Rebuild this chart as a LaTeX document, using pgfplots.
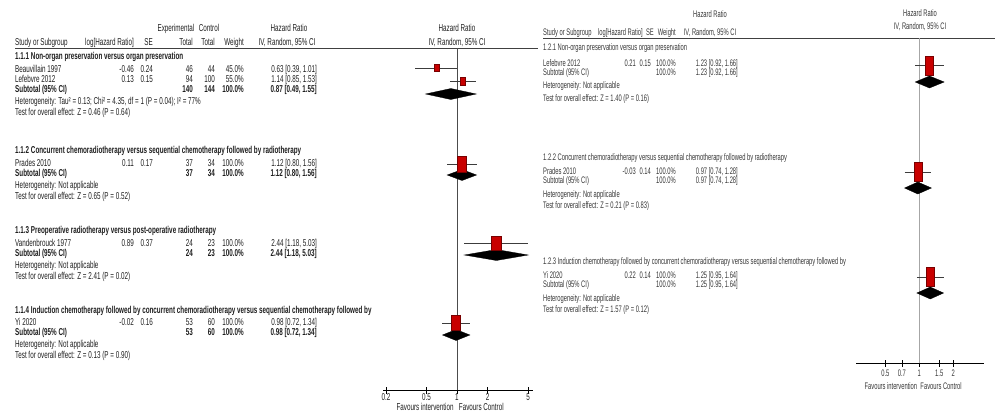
\documentclass[border=0pt]{standalone}
\usepackage{pgfplots}
\pgfplotsset{compat=1.18}
\usepackage{fontspec}
\setmainfont{Liberation Sans}[FakeStretch=0.63]
\newfontfamily\rfont{Liberation Sans}[FakeStretch=0.61]
\definecolor{sqfill}{RGB}{200,0,0}
\definecolor{sqdraw}{RGB}{120,0,0}
\definecolor{txt}{RGB}{30,30,30}
\definecolor{rtxt}{RGB}{55,55,55}
\definecolor{wh}{RGB}{60,60,60}
\newcommand\lf{\fontsize{10}{11}\selectfont}
\newcommand\rf{\rfont\fontsize{9.5}{10}\selectfont}
\tikzset{
 tl/.style={anchor=base west,inner sep=0pt,font=\lf,text=txt},
 tr/.style={anchor=base east,inner sep=0pt,font=\lf,text=txt},
 tc/.style={anchor=base,inner sep=0pt,font=\lf,text=txt},
 rl/.style={anchor=base west,inner sep=0pt,font=\rf,text=rtxt},
 rr/.style={anchor=base east,inner sep=0pt,font=\rf,text=rtxt},
 rc/.style={anchor=base,inner sep=0pt,font=\rf,text=rtxt},
}
\newcommand\Ll[3]{\node[tl,yshift=-3.5pt] at (#1pt,-#2pt) {#3};}
\newcommand\Lr[3]{\node[tr,yshift=-3.5pt] at (#1pt,-#2pt) {#3};}
\newcommand\Lc[3]{\node[tc,yshift=-3.5pt] at (#1pt,-#2pt) {#3};}
\newcommand\Rl[3]{\node[rl,yshift=-3.3pt] at (#1pt,-#2pt) {#3};}
\newcommand\Rr[3]{\node[rr,yshift=-3.3pt] at (#1pt,-#2pt) {#3};}
\newcommand\Rc[3]{\node[rc,yshift=-3.3pt] at (#1pt,-#2pt) {#3};}
\newcommand\Lrow[8]{\Ll{15}{#1}{#2}\Lr{134}{#1}{#3}\Lr{153}{#1}{#4}\Lr{193}{#1}{#5}\Lr{215}{#1}{#6}\Lr{244}{#1}{#7}\Lr{317}{#1}{#8}}
\newcommand\Rrow[6]{\Rl{543}{#1}{#2}\Rr{636}{#1}{#3}\Rr{651}{#1}{#4}\Rr{676}{#1}{#5}\Rr{738}{#1}{#6}}
\pgfplotsset{
 fplot/.style={
  scale only axis, clip=false,
  axis x line*=bottom, axis y line=none,
  x axis line style={-,black,line width=0.6pt},
  ytick=\empty,
  tick align=center, major tick length=7pt,
  xtick style={black,line width=0.6pt},
  xticklabel style={font=\lf,text=txt},
 },
 whisk/.style={wh,line width=0.7pt},
 diam/.style={fill=black,draw=black,line width=0.3pt},
}
\begin{document}
\begin{tikzpicture}
\useasboundingbox (0pt,0pt) rectangle (995pt,-413pt);

% ---------------- LEFT PANEL ----------------
\draw[line width=0.9pt,black!75] (15pt,-48pt) -- (538pt,-48pt);
\Lc{176}{28}{Experimental}
\Lc{209}{28}{Control}
\Lc{289}{28}{Hazard Ratio}
\Lc{457}{28}{Hazard Ratio}
\Ll{15}{42}{Study or Subgroup}
\Lr{134}{42}{log[Hazard Ratio]}
\Lr{153}{42}{SE}
\Lr{193}{42}{Total}
\Lr{215}{42}{Total}
\Lr{244}{42}{Weight}
\Lc{287}{42}{IV, Random, 95\% CI}
\Lc{457}{42}{IV, Random, 95\% CI}

\Ll{15}{56}{\bfseries 1.1.1 Non-organ preservation versus organ preservation}
\Lrow{69}{Beauvillain 1997}{-0.46}{0.24}{46}{44}{45.0\%}{0.63 [0.39, 1.01]}
\Lrow{79}{Lefebvre 2012}{0.13}{0.15}{94}{100}{55.0\%}{1.14 [0.85, 1.53]}
\Lrow{89}{\bfseries Subtotal (95\% CI)}{}{}{\bfseries 140}{\bfseries 144}{\bfseries 100.0\%}{\bfseries 0.87 [0.49, 1.55]}
\Ll{15}{101}{Heterogeneity: Tau² = 0.13; Chi² = 4.35, df = 1 (P = 0.04); I² = 77\%}
\Ll{15}{112}{Test for overall effect: Z = 0.46 (P = 0.64)}

\Ll{15}{150}{\bfseries 1.1.2 Concurrent chemoradiotherapy versus sequential chemotherapy followed by radiotherapy}
\Lrow{163}{Prades 2010}{0.11}{0.17}{37}{34}{100.0\%}{1.12 [0.80, 1.56]}
\Lrow{173}{\bfseries Subtotal (95\% CI)}{}{}{\bfseries 37}{\bfseries 34}{\bfseries 100.0\%}{\bfseries 1.12 [0.80, 1.56]}
\Ll{15}{185}{Heterogeneity: Not applicable}
\Ll{15}{196}{Test for overall effect: Z = 0.65 (P = 0.52)}

\Ll{15}{230}{\bfseries 1.1.3 Preoperative radiotherapy versus post-operative radiotherapy}
\Lrow{243}{Vandenbrouck 1977}{0.89}{0.37}{24}{23}{100.0\%}{2.44 [1.18, 5.03]}
\Lrow{253}{\bfseries Subtotal (95\% CI)}{}{}{\bfseries 24}{\bfseries 23}{\bfseries 100.0\%}{\bfseries 2.44 [1.18, 5.03]}
\Ll{15}{265}{Heterogeneity: Not applicable}
\Ll{15}{276}{Test for overall effect: Z = 2.41 (P = 0.02)}

\Ll{15}{310}{\bfseries 1.1.4 Induction chemotherapy followed by concurrent chemoradiotherapy versus sequential chemotherapy followed by}
\Lrow{322}{Yi 2020}{-0.02}{0.16}{53}{60}{100.0\%}{0.98 [0.72, 1.34]}
\Lrow{332}{\bfseries Subtotal (95\% CI)}{}{}{\bfseries 53}{\bfseries 60}{\bfseries 100.0\%}{\bfseries 0.98 [0.72, 1.34]}
\Ll{15}{344}{Heterogeneity: Not applicable}
\Ll{15}{355}{Test for overall effect: Z = 0.13 (P = 0.90)}

\begin{axis}[xmode=log, fplot, at={(383pt,-390pt)}, anchor=south west,
  width=150pt, height=342pt,
  xmin=0.187, xmax=5.6, ymin=-390, ymax=-48,
  xtick={0.2,0.5,1,2,5}, xticklabels={0.2,0.5,1,2,5},
  xticklabel style={yshift=3.5pt}]
 \addplot[black!70,line width=0.6pt] coordinates {(1,-48) (1,-390)};
 \addplot[whisk] coordinates {(0.39,-68) (1.01,-68)};
 \addplot[whisk] coordinates {(0.85,-81) (1.53,-81)};
 \addplot[whisk] coordinates {(0.80,-164) (1.56,-164)};
 \addplot[whisk] coordinates {(1.18,-243) (5.03,-243)};
 \addplot[whisk] coordinates {(0.72,-323) (1.34,-323)};
 \addplot[only marks,mark=square*,mark size=3.5pt,mark options={fill=sqfill,draw=sqdraw,line width=0.4pt,xscale=0.71}] coordinates {(0.63,-68)};
 \addplot[only marks,mark=square*,mark size=4pt,mark options={fill=sqfill,draw=sqdraw,line width=0.4pt,xscale=0.63}] coordinates {(1.14,-81)};
 \addplot[only marks,mark=square*,mark size=8pt,mark options={fill=sqfill,draw=sqdraw,line width=0.4pt,xscale=0.56}] coordinates {(1.12,-164)};
 \addplot[only marks,mark=square*,mark size=7pt,mark options={fill=sqfill,draw=sqdraw,line width=0.4pt,xscale=0.71}] coordinates {(2.44,-243)};
 \addplot[only marks,mark=square*,mark size=7.5pt,mark options={fill=sqfill,draw=sqdraw,line width=0.4pt,xscale=0.6}] coordinates {(0.98,-323)};
 \addplot[diam] coordinates {(0.49,-94) (0.87,-88.5) (1.55,-94) (0.87,-99.5)} -- cycle;
 \addplot[diam] coordinates {(0.80,-175) (1.12,-169.5) (1.56,-175) (1.12,-180.5)} -- cycle;
 \addplot[diam] coordinates {(1.18,-255) (2.44,-249.5) (5.03,-255) (2.44,-260.5)} -- cycle;
 \addplot[diam] coordinates {(0.72,-335) (0.98,-329.5) (1.34,-335) (0.98,-340.5)} -- cycle;
 \node[tr,yshift=-3.5pt] at (axis cs:0.93,-407) {Favours intervention};
 \node[tl,yshift=-3.5pt] at (axis cs:1.04,-407) {Favours Control};
\end{axis}

% ---------------- RIGHT PANEL ----------------
\draw[line width=0.9pt,black!75] (543pt,-38pt) -- (995pt,-38pt);
\Rc{710}{14}{Hazard Ratio}
\Rl{543}{32}{Study or Subgroup}
\Rr{643}{32}{log[Hazard Ratio]}
\Rr{654}{32}{SE}
\Rr{676}{32}{Weight}
\Rc{710}{32}{IV, Random, 95\% CI}
\Rc{920}{13}{Hazard Ratio}
\Rc{920}{26}{IV, Random, 95\% CI}

\Rl{543}{47}{1.2.1 Non-organ preservation versus organ preservation}
\Rrow{63}{Lefebvre 2012}{0.21}{0.15}{100.0\%}{1.23 [0.92, 1.66]}
\Rrow{72}{Subtotal (95\% CI)}{}{}{100.0\%}{1.23 [0.92, 1.66]}
\Rl{543}{85}{Heterogeneity: Not applicable}
\Rl{543}{98}{Test for overall effect: Z = 1.40 (P = 0.16)}

\Rl{543}{157}{1.2.2 Concurrent chemoradiotherapy versus sequential chemotherapy followed by radiotherapy}
\Rrow{171}{Prades 2010}{-0.03}{0.14}{100.0\%}{0.97 [0.74, 1.28]}
\Rrow{180}{Subtotal (95\% CI)}{}{}{100.0\%}{0.97 [0.74, 1.28]}
\Rl{543}{194}{Heterogeneity: Not applicable}
\Rl{543}{205}{Test for overall effect: Z = 0.21 (P = 0.83)}

\Rl{543}{261}{1.2.3 Induction chemotherapy followed by concurrent chemoradiotherapy versus sequential chemotherapy followed by}
\Rrow{275}{Yi 2020}{0.22}{0.14}{100.0\%}{1.25 [0.95, 1.64]}
\Rrow{284}{Subtotal (95\% CI)}{}{}{100.0\%}{1.25 [0.95, 1.64]}
\Rl{543}{298}{Heterogeneity: Not applicable}
\Rl{543}{309}{Test for overall effect: Z = 1.57 (P = 0.12)}

\begin{axis}[xmode=log, fplot, at={(856pt,-363pt)}, anchor=south west,
  width=128pt, height=325pt,
  xmin=0.275, xmax=3.74, ymin=-363, ymax=-38,
  xtick={0.5,0.7,1,1.5,2}, xticklabels={0.5,0.7,1,1.5,2},
  xticklabel style={font=\rf,text=rtxt}]
 \addplot[black!35,line width=1.2pt] coordinates {(1,-38) (1,-363)};
 \addplot[whisk] coordinates {(0.92,-65) (1.66,-65)};
 \addplot[whisk] coordinates {(0.74,-172) (1.28,-172)};
 \addplot[whisk] coordinates {(0.95,-277) (1.64,-277)};
 \addplot[only marks,mark=square*,mark size=9.5pt,mark options={fill=sqfill,draw=sqdraw,line width=0.4pt,xscale=0.42}] coordinates {(1.23,-66) (0.97,-172) (1.25,-277)};
 \addplot[diam] coordinates {(0.92,-82) (1.23,-76) (1.66,-82) (1.23,-88)} -- cycle;
 \addplot[diam] coordinates {(0.74,-188) (0.97,-182) (1.28,-188) (0.97,-194)} -- cycle;
 \addplot[diam] coordinates {(0.95,-293) (1.25,-287) (1.64,-293) (1.25,-299)} -- cycle;
 \node[rr,yshift=-3.3pt] at (axis cs:0.96,-386) {Favours intervention};
 \node[rl,yshift=-3.3pt] at (axis cs:1.02,-386) {Favours Control};
\end{axis}
\end{tikzpicture}
\end{document}
